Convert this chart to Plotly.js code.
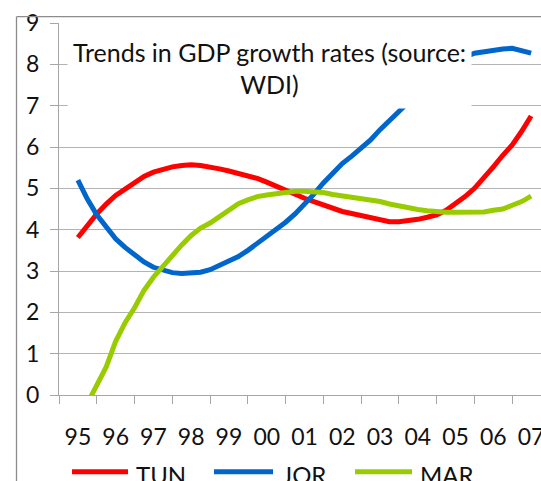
<!DOCTYPE html>
<html>
<head>
<meta charset="utf-8">
<script src="https://cdn.plot.ly/plotly-3.0.1.min.js"></script>
<style>
  html, body { margin: 0; padding: 0; background: #fff; overflow: hidden; }
  #chart { width: 560px; height: 481px; }
</style>
</head>
<body>
<div id="chart"></div>
<script>
// Category labels (years)
const categories = ['95','96','97','98','99','00','01','02','03','04','05','06','07'];
const firstYear = 1995;

// Quarterly trend values, 1995Q1 .. 2007Q1 (49 points)
const TUN = [3.81,4.10,4.38,4.62,4.83,4.98,5.14,5.29,5.39,5.46,5.52,5.55,5.57,5.55,5.52,5.47,
             5.42,5.37,5.30,5.24,5.15,5.05,4.93,4.84,4.76,4.68,4.60,4.51,4.44,4.39,4.34,4.28,
             4.21,4.19,4.19,4.21,4.25,4.30,4.36,4.47,4.62,4.80,5.00,5.24,5.52,5.80,6.05,6.38,6.75];
const JOR = [5.20,4.74,4.36,4.07,3.78,3.57,3.39,3.22,3.09,3.01,2.96,2.94,2.94,2.97,3.03,3.13,
             3.22,3.35,3.50,3.67,3.84,3.99,4.18,4.38,4.60,4.86,5.13,5.37,5.60,5.78,5.96,6.17,
             6.42,6.63,6.85,7.07,7.30,7.52,7.72,7.90,8.05,8.18,8.27,8.31,8.34,8.37,8.39,8.34,8.27];
const MAR = [-0.65,-0.20,0.25,0.68,1.30,1.75,2.11,2.53,2.85,3.11,3.39,3.63,3.86,4.04,4.16,4.32,
             4.47,4.63,4.72,4.80,4.84,4.88,4.92,4.93,4.93,4.92,4.90,4.85,4.82,4.78,4.74,4.70,
             4.68,4.62,4.57,4.53,4.49,4.46,4.43,4.42,4.42,4.42,4.42,4.43,4.47,4.50,4.59,4.68,4.81];

const seriesNames = ['TUN','JOR','MAR'];
const seriesColors = ['#FF0000','#0066CC','#99CC00'];
const seriesValues = [TUN, JOR, MAR];

const titleText = 'Trends in GDP growth rates (source:<br>WDI)';

const xs = TUN.map((_, i) => firstYear + i / 4);
const tickVals = categories.map((_, i) => firstYear + i);
const boundaryVals = categories.map((_, i) => firstYear + i - 0.5).concat([firstYear + categories.length - 0.5]);

const FONT = 'Lato, "Open Sans", sans-serif';

const traces = seriesValues.map((vals, k) => ({
  type: 'scatter', mode: 'lines', name: seriesNames[k],
  x: xs, y: vals,
  line: { color: seriesColors[k], width: 5 },
  showlegend: false, hoverinfo: 'skip'
}));

// Plot-area geometry (pixels) for placing decorations
const W = 560, H = 481, ML = 59, MR = 10, MT = 23, MB = 86;
const PW = W - ML - MR, PH = H - MT - MB;
const px = v => (v - ML) / PW;
const py = v => (H - MB - v) / PH;

const shapes = [
  // outer chart-area border (left & top), cropped in the reference
  { type: 'line', xref: 'paper', yref: 'paper', x0: px(16.5), x1: px(16.5), y0: py(16.7), y1: py(485), line: { color: '#8C8C8C', width: 1.3 } },
  { type: 'line', xref: 'paper', yref: 'paper', x0: px(16.5), x1: px(600), y0: py(16.7), y1: py(16.7), line: { color: '#8C8C8C', width: 1.3 } }
];

const annotations = [
  { xref: 'paper', yref: 'paper', x: px(269.5), y: py(68), xanchor: 'center', yanchor: 'middle',
    text: titleText, showarrow: false, bgcolor: '#FFFFFF', width: 403, height: 80, borderpad: 0,
    align: 'center', font: { family: FONT, size: 25, color: '#111111' } }
];

// custom legend (long line samples as in the reference)
const legendLines = [[72, 128, 134], [214, 273, 280], [355, 412, 418]];
seriesNames.forEach((nm, k) => {
  const [a, b, t] = legendLines[k];
  shapes.push({ type: 'line', xref: 'paper', yref: 'paper', x0: px(a), x1: px(b), y0: py(471.7), y1: py(471.7),
    line: { color: seriesColors[k], width: 5 } });
  annotations.push({ xref: 'paper', yref: 'paper', x: px(t), y: py(474), xanchor: 'left', yanchor: 'middle',
    text: nm, showarrow: false, font: { family: FONT, size: 24, color: '#111111' } });
});

const layout = {
  width: W, height: H,
  margin: { l: ML, r: MR, t: MT, b: MB, pad: 0 },
  paper_bgcolor: '#FFFFFF', plot_bgcolor: '#FFFFFF',
  font: { family: FONT, size: 23, color: '#111111' },
  showlegend: false,
  xaxis: {
    type: 'linear', range: [firstYear - 0.5, firstYear + categories.length - 0.5],
    tickmode: 'array', tickvals: tickVals, ticktext: categories,
    ticks: '', showgrid: false, zeroline: false,
    showline: true, linecolor: '#A6A6A6', linewidth: 1,
    tickfont: { family: FONT, size: 23, color: '#111111' },
    ticklabelstandoff: 21,
    minor: { tickmode: 'array', tickvals: boundaryVals, ticks: 'outside', ticklen: 8, tickcolor: '#A6A6A6', tickwidth: 1, showgrid: false }
  },
  yaxis: {
    range: [0, 9], tickmode: 'linear', tick0: 0, dtick: 1,
    showgrid: true, gridcolor: '#B3B3B3', gridwidth: 1, zeroline: false,
    showline: true, linecolor: '#A6A6A6', linewidth: 1,
    ticks: 'outside', ticklen: 8, tickcolor: '#A6A6A6',
    tickfont: { family: FONT, size: 23, color: '#111111' },
    ticklabelstandoff: 6
  },
  shapes: shapes,
  annotations: annotations
};

Plotly.newPlot('chart', traces, layout, { staticPlot: true, displayModeBar: false });
</script>
</body>
</html>
